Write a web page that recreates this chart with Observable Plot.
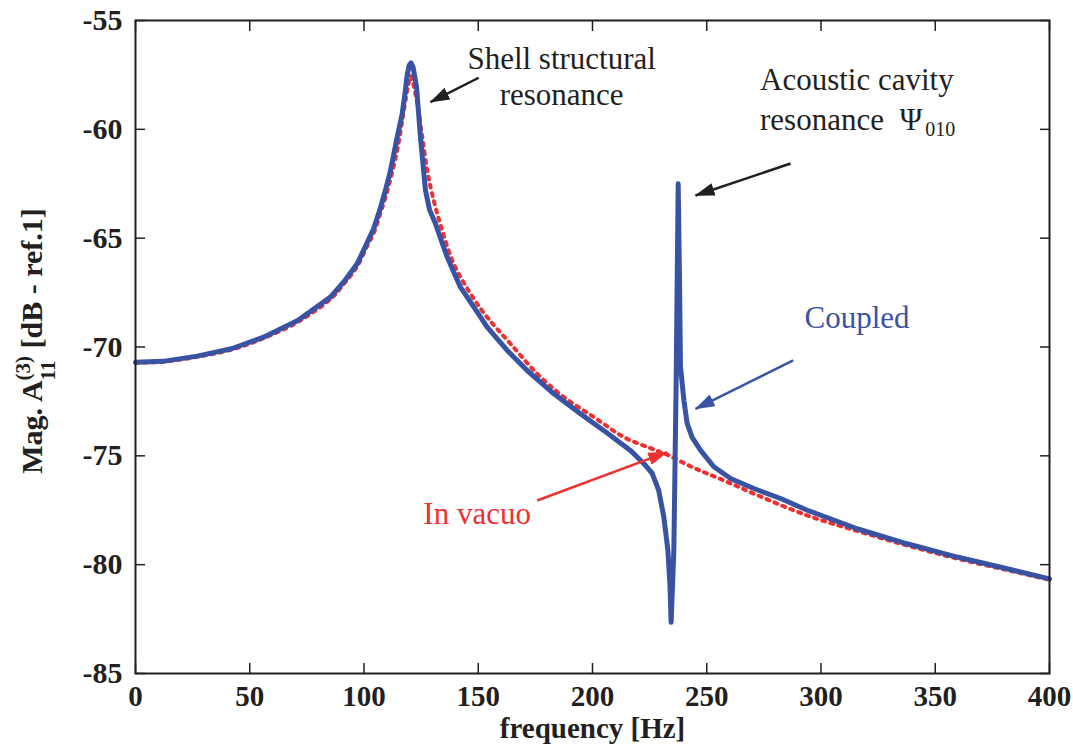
<!DOCTYPE html>
<html>
<head>
<meta charset="utf-8">
<script src="https://cdn.jsdelivr.net/npm/d3@7"></script>
<script src="https://cdn.jsdelivr.net/npm/@observablehq/plot@0.6"></script>
<style>
  body { margin: 0; background: #fff; }
  #chart svg { display: block; }
</style>
</head>
<body>
<div id="chart"></div>
<script>
// ---- data ----
const coupledFreq = [0, 12, 27, 42, 56, 71, 85.3, 91.2, 97, 101.4, 104.3, 107.2, 109.5, 111.6, 114.5, 116.7, 118, 118.9, 119.8, 120.6, 121.5, 123, 124.7, 126.9, 128.7, 131.3, 136.4, 142.2, 148.1, 153.9, 162.7, 171.4, 183.1, 194.7, 206.4, 216.6, 222.5, 226.1, 229, 231.2, 233, 233.9, 234.4, 235.6, 236.6, 237.5, 238.1, 238.5, 240, 241.4, 243.6, 247.3, 253.1, 260.4, 270.6, 282.3, 294, 315.8, 337.7, 359.6, 381.5, 400];
const coupledMag = [-70.7, -70.66, -70.42, -70.08, -69.55, -68.78, -67.71, -67.0, -66.18, -65.2, -64.55, -63.6, -62.75, -61.9, -60.36, -59.3, -58.3, -57.5, -57.05, -56.95, -57.15, -58.06, -60.36, -62.8, -63.7, -64.34, -65.87, -67.25, -68.17, -69.09, -70.16, -71.08, -72.15, -73.07, -73.95, -74.75, -75.36, -75.8, -76.6, -77.8, -79.35, -80.9, -82.65, -79.35, -71.7, -62.5, -67.1, -70.9, -72.45, -73.5, -74.15, -74.75, -75.5, -76.04, -76.5, -76.96, -77.5, -78.35, -79.04, -79.65, -80.19, -80.65];

const vacuoFreq = [0, 12, 27, 42, 56, 71, 85.3, 91.2, 97, 101.4, 104.3, 107.2, 110, 112.5, 115, 117.5, 119.3, 120.4, 121.5, 123.3, 125.5, 127.7, 129.8, 133.5, 139.3, 146.6, 153.9, 164.1, 175.8, 187.4, 200.6, 213.7, 225.4, 232.7, 244.3, 257.5, 272, 294, 315.8, 337.7, 359.6, 381.5, 400];
const vacuoMag = [-70.72, -70.68, -70.45, -70.12, -69.6, -68.85, -67.8, -67.1, -66.3, -65.35, -64.75, -63.85, -62.9, -61.9, -60.7, -59.1, -58.0, -57.55, -57.9, -58.8, -60.36, -61.9, -62.96, -64.4, -66.18, -67.55, -68.63, -69.85, -71.23, -72.3, -73.22, -74.14, -74.65, -74.95, -75.55, -76.13, -76.8, -77.74, -78.45, -79.12, -79.72, -80.25, -80.7];

const xTicks = [0, 50, 100, 150, 200, 250, 300, 350, 400];
const yTicks = [-85, -80, -75, -70, -65, -60, -55];
const xTitle = "frequency [Hz]";

// annotation texts and their anchor points (data coordinates)
const shellText = ["Shell structural\nresonance"];
const shellX = [186.5];
const shellY = [-58.86];
const cavityText = ["Acoustic cavity\nresonance  \u03A8"];
const cavityX = [273.3];
const cavityY = [-60.02];
const cavitySubText = ["010"];
const seriesText = ["Coupled", "In vacuo"];
const seriesX = [315.8, 149.5];
const seriesY = [-69.12, -78.12];
const seriesColor = ["#3953a4", "#ee3131"];

const arrowX1 = [150.2, 286.7, 287.8, 175.8];
const arrowY1 = [-57.63, -61.57, -70.62, -77.05];
const arrowX2 = [129.1, 245.1, 245.1, 232.7];
const arrowY2 = [-58.75, -63.04, -72.84, -74.83];
const arrowColor = ["#231f20", "#231f20", "#3953a4", "#ee3131"];

// ---- build tables ----
const coupled = coupledFreq.map((f, i) => ({f, v: coupledMag[i]}));
const vacuo = vacuoFreq.map((f, i) => ({f, v: vacuoMag[i]}));
const shell = shellText.map((t, i) => ({t, x: shellX[i], y: shellY[i]}));
const cavity = cavityText.map((t, i) => ({t, x: cavityX[i], y: cavityY[i]}));
const series = seriesText.map((t, i) => ({t, x: seriesX[i], y: seriesY[i], c: seriesColor[i]}));
const arrows = arrowX1.map((x1, i) => ({x1, y1: arrowY1[i], x2: arrowX2[i], y2: arrowY2[i], c: arrowColor[i]}));

const serif = "Liberation Serif";
const ink = "#231f20";

const plot = Plot.plot({
  width: 1073,
  height: 745,
  marginLeft: 135,
  marginRight: 24,
  marginTop: 20,
  marginBottom: 72,
  style: {fontFamily: serif, background: "#fff", overflow: "visible"},
  x: {domain: [0, 400], axis: null},
  y: {domain: [-85, -55], axis: null},
  marks: [
    Plot.axisX(xTicks, {anchor: "bottom", tickSize: -10, tickPadding: 22, fontSize: 29, fontWeight: "bold", fill: ink, stroke: ink, strokeWidth: 1.5, label: null, tickFormat: d => String(d)}),
    Plot.axisX(xTicks, {anchor: "top", tickSize: -10, stroke: ink, strokeWidth: 1.5, label: null, tickFormat: () => ""}),
    Plot.axisY(yTicks, {anchor: "left", tickSize: -10, tickPadding: 23, fontSize: 30, fontWeight: "bold", fill: ink, stroke: ink, strokeWidth: 1.5, label: null, tickFormat: d => String(d)}),
    Plot.axisY(yTicks, {anchor: "right", tickSize: -10, stroke: ink, strokeWidth: 1.5, label: null, tickFormat: () => ""}),
    Plot.line(vacuo, {x: "f", y: "v", stroke: "#ee3030", strokeWidth: 4, strokeDasharray: "3,5.5", curve: "catmull-rom"}),
    Plot.line(coupled, {x: "f", y: "v", stroke: "#3953a4", strokeWidth: 5, strokeLinejoin: "round", strokeLinecap: "round"}),
    Plot.link(arrows, {x1: "x1", y1: "y1", x2: "x2", y2: "y2", stroke: "c", strokeWidth: 2.5}),
    Plot.text(shell, {x: "x", y: "y", text: "t", fill: ink, textAnchor: "middle", lineAnchor: "bottom", fontSize: 31, lineHeight: 1.16, fontFamily: serif}),
    Plot.text(cavity, {x: "x", y: "y", text: "t", fill: ink, textAnchor: "start", lineAnchor: "bottom", fontSize: 31, lineHeight: 1.29, fontFamily: serif, ariaLabel: "cavity"}),
    Plot.text(series, {x: "x", y: "y", text: "t", fill: "c", textAnchor: "middle", lineAnchor: "bottom", fontSize: 31, fontFamily: serif}),
    Plot.text([xTitle], {frameAnchor: "bottom", dy: 64, lineAnchor: "bottom", fontSize: 29, fontWeight: "bold", fill: ink, fontFamily: serif}),
    Plot.frame({stroke: ink, strokeWidth: 2})
  ]
});

// ---- filled arrowheads ----
const svg = d3.select(plot);
const defs = svg.insert("defs", ":first-child");
const headColors = [...new Set(arrowColor.map(c => c.toLowerCase()))];
headColors.forEach((c, i) => {
  defs.append("marker")
    .attr("id", "arrowhead" + i)
    .attr("viewBox", "0 0 20 13")
    .attr("refX", 19).attr("refY", 6.5)
    .attr("markerWidth", 20).attr("markerHeight", 13)
    .attr("markerUnits", "userSpaceOnUse")
    .attr("orient", "auto")
    .append("path").attr("d", "M0,0L20,6.5L0,13Z").attr("fill", c);
});
svg.selectAll('g[aria-label="link"] path').each(function() {
  const s = (this.getAttribute("stroke") || this.parentNode.getAttribute("stroke") || "").toLowerCase();
  const i = headColors.indexOf(s);
  if (i >= 0) this.setAttribute("marker-end", `url(#arrowhead${i})`);
});

// ---- subscript of the cavity mode symbol ----
svg.selectAll("text").each(function() {
  const spans = this.querySelectorAll("tspan");
  if (!spans.length) return;
  const last = spans[spans.length - 1];
  if (last.textContent.endsWith("\u03A8")) {
    d3.select(last).append("tspan").attr("font-size", 20).attr("dx", 3).attr("dy", 6).text(cavitySubText[0]);
  }
});

// ---- y axis title with sub/superscript ----
const yl = svg.append("text")
  .attr("transform", "translate(42,341) rotate(-90)")
  .attr("text-anchor", "middle")
  .attr("font-family", serif)
  .attr("font-weight", "bold")
  .attr("font-size", 30)
  .attr("fill", ink);
yl.append("tspan").text("Mag. A");
const sub = yl.append("tspan").attr("font-size", 21).attr("dy", 13).text("11");
const sup = yl.append("tspan").attr("font-size", 21).attr("dy", -25).text("(3)");
yl.append("tspan").attr("dy", 12).text(" [dB - ref.1]");

document.getElementById("chart").append(plot);
const w = sub.node().getComputedTextLength();
sup.attr("dx", -w);
</script>
</body>
</html>
